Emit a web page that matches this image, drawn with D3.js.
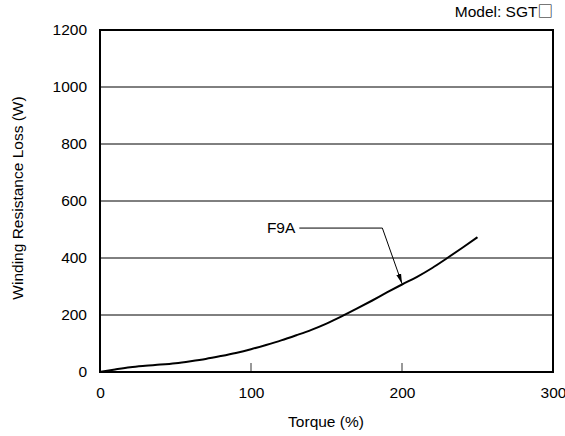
<!DOCTYPE html>
<html><head><meta charset="utf-8">
<script src="https://cdn.jsdelivr.net/npm/d3@7"></script>
<style>body{margin:0;background:#fff;} text{font-family:"Liberation Sans",Arial,sans-serif;fill:#000;}</style>
</head><body><svg id="c" width="565" height="436"></svg>
<script>
const torque = [0,10,20,30,40,50,60,70,80,90,100,110,120,130,140,150,160,170,180,190,200,210,220,230,240,250];
const loss   = [0,9,17,22,26,31,38,46,56,67,80,95,111,129,148,170,195,222,250,279,307,334,365,400,436,473];
const xTicks = [0,100,200,300];
const yTicks = [0,200,400,600,800,1000,1200];
const seriesName = "F9A";
const labelPoint = [132, 505];   // text anchor (data units)
const elbowPoint = [187, 505];
const arrowTip = [200, 310];

const svg = d3.select("#c");
const x = d3.scaleLinear().domain([0,300]).range([100,553]);
const y = d3.scaleLinear().domain([0,1200]).range([372,30]);
const fs = 15.5;

// gridlines
svg.append("g").selectAll("line").data(yTicks.filter(d=>d>0&&d<1200)).join("line")
  .attr("x1",x(0)).attr("x2",x(300)).attr("y1",d=>y(d)).attr("y2",d=>y(d))
  .attr("stroke","#000").attr("stroke-width",1);

// inner bottom ticks
svg.append("g").selectAll("line").data(xTicks.filter(d=>d>0&&d<300)).join("line")
  .attr("x1",d=>x(d)).attr("x2",d=>x(d)).attr("y1",y(0)).attr("y2",y(0)-9)
  .attr("stroke","#555").attr("stroke-width",1.2);

// frame
svg.append("rect").attr("x",x(0)).attr("y",y(1200)).attr("width",x(300)-x(0)).attr("height",y(0)-y(1200))
  .attr("fill","none").attr("stroke","#000").attr("stroke-width",2);

// axes labels
const xAxis = d3.axisBottom(x).tickValues(xTicks).tickFormat(d3.format("d")).tickSize(0).tickPadding(15);
const gx = svg.append("g").attr("transform",`translate(0,${y(0)})`).call(xAxis);
gx.select(".domain").remove();
gx.selectAll("text").style("font-size",fs+"px").attr("font-family","Liberation Sans");
const yAxis = d3.axisLeft(y).tickValues(yTicks).tickFormat(d3.format("d")).tickSize(0).tickPadding(13);
const gy = svg.append("g").attr("transform",`translate(${x(0)},0)`).call(yAxis);
gy.select(".domain").remove();
gy.selectAll("text").style("font-size",fs+"px").attr("font-family","Liberation Sans");

// curve
svg.append("path").datum(torque.map((t,i)=>[t,loss[i]]))
  .attr("d",d3.line().x(d=>x(d[0])).y(d=>y(d[1])).curve(d3.curveMonotoneX))
  .attr("fill","none").attr("stroke","#000").attr("stroke-width",2);

// annotation
svg.append("defs").append("marker").attr("id","ah").attr("viewBox","0 0 10 10")
  .attr("refX",10).attr("refY",5).attr("markerWidth",10).attr("markerHeight",10)
  .attr("markerUnits","userSpaceOnUse").attr("orient","auto")
  .append("path").attr("d","M0,2.5 L10,5 L0,7.5 Z").attr("fill","#000");
svg.append("polyline")
  .attr("points",[[x(labelPoint[0]),y(labelPoint[1])],[x(elbowPoint[0]),y(elbowPoint[1])],[x(arrowTip[0]),y(arrowTip[1])]].map(p=>p.join(",")).join(" "))
  .attr("fill","none").attr("stroke","#000").attr("stroke-width",1).attr("marker-end","url(#ah)");
svg.append("text").attr("x",x(labelPoint[0])-4).attr("y",y(labelPoint[1])+5)
  .attr("text-anchor","end").style("font-size",fs+"px").text(seriesName);

// titles
svg.append("text").attr("x",326).attr("y",427).attr("text-anchor","middle").style("font-size","15.5px").text("Torque (%)");
svg.append("text").attr("transform","translate(23,198) rotate(-90)").attr("text-anchor","middle").style("font-size","15.5px").text("Winding Resistance Loss (W)");
svg.append("text").attr("x",553).attr("y",17).attr("text-anchor","end").style("font-size","15.5px")
  .html('Model: SGT<tspan font-family="Noto Sans CJK JP">□</tspan>');
</script></body></html>
